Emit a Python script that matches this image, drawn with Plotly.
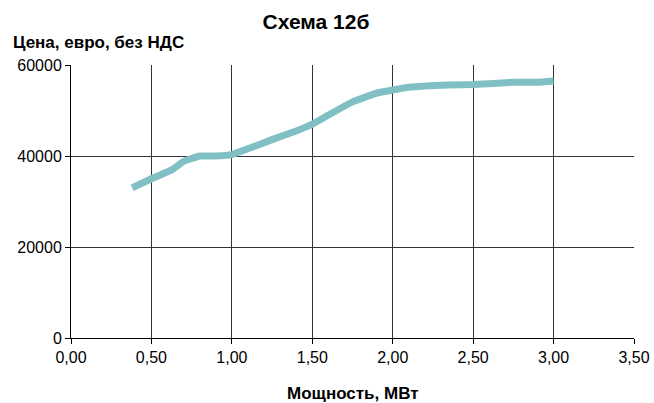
import plotly.graph_objects as go

power_mw = [0.38, 0.5, 0.63, 0.7, 0.8, 0.9, 1.0, 1.1, 1.25, 1.4, 1.5, 1.6, 1.75, 1.9, 2.0, 2.1, 2.35, 2.5, 2.75, 2.9, 3.0]
price_eur = [33000, 35000, 37000, 38800, 40000, 40000, 40300, 41600, 43600, 45500, 47000, 49000, 51900, 53800, 54500, 55100, 55600, 55700, 56200, 56200, 56500]

title_text = "Схема 12б"
y_label = "Цена, евро, без НДС"
x_label = "Мощность, МВт"

font_family = "Liberation Sans, Arial, sans-serif"

L, R, T, B = 71, 20, 65, 65
W, H = 654, 403
PW, PH = W - L - R, H - T - B

fig = go.Figure()
fig.add_trace(go.Scatter(
    x=power_mw, y=price_eur, mode="lines",
    line=dict(color="#80C0C4", width=7, shape="spline", smoothing=0.3),
    showlegend=False, hoverinfo="skip",
))

fig.update_layout(
    width=W, height=H,
    margin=dict(l=L, r=R, t=T, b=B, autoexpand=False),
    paper_bgcolor="white", plot_bgcolor="white",
    separators=", ",
    font=dict(family=font_family, size=16, color="black"),
    title=dict(text="<b>" + title_text + "</b>", x=316 / W, xanchor="center",
               y=1 - 22 / H, yanchor="middle", font=dict(size=21, family=font_family)),
    annotations=[
        dict(text="<b>" + y_label + "</b>", xref="paper", yref="paper",
             x=-(L - 11) / PW, y=1 + (T - 42) / PH, xanchor="left", yanchor="middle",
             showarrow=False, font=dict(size=17, family=font_family)),
        dict(text="<b>" + x_label + "</b>", xref="paper", yref="paper",
             x=(353 - L) / PW, y=-(393 - (H - B)) / PH, xanchor="center", yanchor="middle",
             showarrow=False, font=dict(size=17, family=font_family)),
    ],
    xaxis=dict(
        range=[0, 3.5], tickmode="linear", tick0=0, dtick=0.5, tickformat=".2f",
        showgrid=True, gridcolor="#333333", gridwidth=1,
        showline=True, linecolor="black", linewidth=1, mirror=False,
        ticks="outside", ticklen=5, tickcolor="black",
        zeroline=False, fixedrange=True, automargin=False,
        tickfont=dict(size=16, family=font_family),
    ),
    yaxis=dict(
        range=[0, 60000], tickmode="linear", tick0=0, dtick=20000, tickformat="d",
        showgrid=True, gridcolor="#333333", gridwidth=1,
        showline=True, linecolor="black", linewidth=1,
        ticks="outside", ticklen=5, tickcolor="black",
        zeroline=False, fixedrange=True, automargin=False,
        tickfont=dict(size=16, family=font_family),
    ),
)

fig.write_html("out.html", config={"displayModeBar": False},
               post_script="document.body.style.margin='0';document.body.style.overflow='hidden';")
